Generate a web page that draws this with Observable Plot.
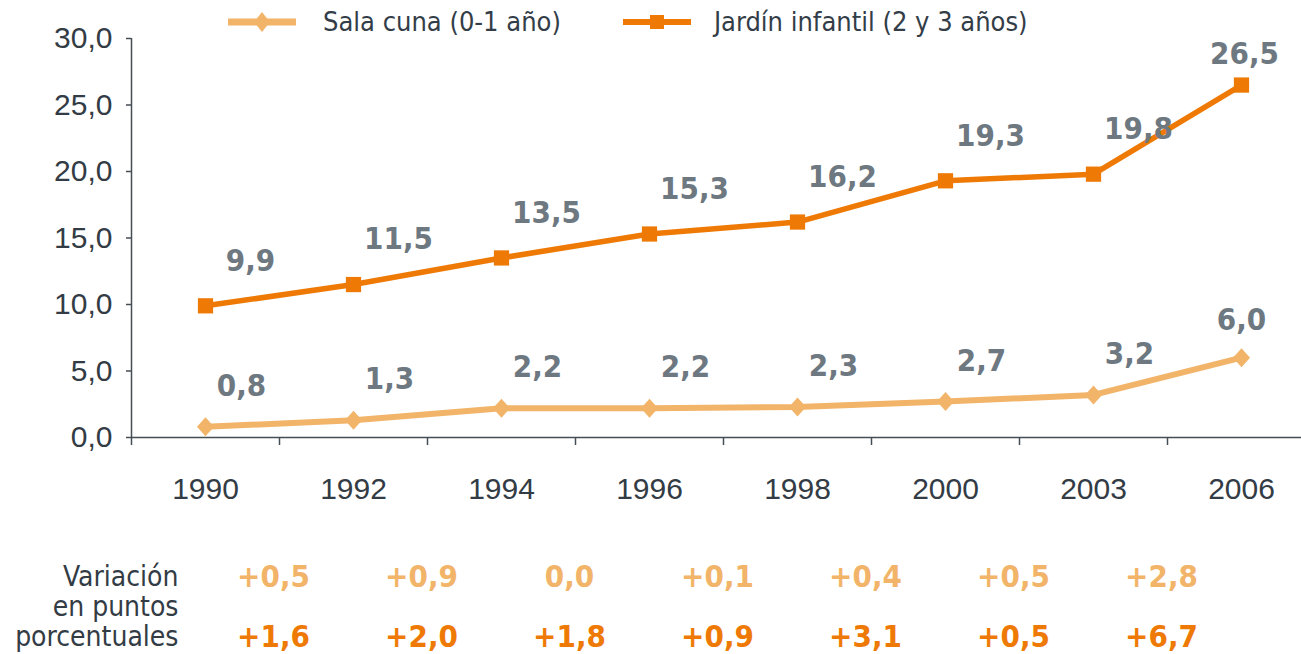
<!DOCTYPE html>
<html><head><meta charset="utf-8">
<script src="https://cdn.jsdelivr.net/npm/d3@7"></script>
<script src="https://cdn.jsdelivr.net/npm/@observablehq/plot@0.6"></script>
<style>
body{margin:0;background:#fff;overflow:hidden}
#wrap{position:relative;width:1301px;height:654px;overflow:hidden}
#legend{position:absolute;top:6px;left:228px;display:flex;align-items:center;font-family:"DejaVu Sans Condensed","DejaVu Sans",sans-serif;font-stretch:condensed;font-size:27px;color:#333d47}
.item{display:flex;align-items:center}
.item svg{display:block}
#chart svg{overflow:hidden}
</style></head><body><div id="wrap"><div id="chart"></div><div id="legend"></div></div>
<script>
const years = ["1990","1992","1994","1996","1998","2000","2003","2006"];
const salaCuna = [0.8,1.3,2.2,2.2,2.3,2.7,3.2,6.0];
const jardin = [9.9,11.5,13.5,15.3,16.2,19.3,19.8,26.5];
const varSala = [0.5,0.9,0.0,0.1,0.4,0.5,2.8];
const varJardin = [1.6,2.0,1.8,0.9,3.1,0.5,6.7];
const yTicks = [0,5,10,15,20,25,30];
const seriesNames = ["Sala cuna (0-1 año)","Jardín infantil (2 y 3 años)"];
const rowLabel = "Variación\nen puntos\nporcentuales";

const cLight = "#f2b469", cDark = "#ee7a05", cGray = "#6e7881", cText = "#333c45", cAxis = "#454d55";
const fmt = v => v.toFixed(1).replace(".", ",");
const fmtVar = v => (v > 0 ? "+" : "") + fmt(v);
const condFont = "'DejaVu Sans Condensed','DejaVu Sans',sans-serif";
const armFont = "'Liberation Sans',Arial,sans-serif";

const diamond = {draw(ctx, size){const r=Math.sqrt(size/Math.PI);const w=r*0.9;ctx.moveTo(0,-r);ctx.lineTo(w,0);ctx.lineTo(0,r);ctx.lineTo(-w,0);ctx.closePath();}};

const sala = salaCuna.map((v,i)=>({i, v}));
const jard = jardin.map((v,i)=>({i, v}));
const n = years.length;
const bounds = d3.range(n+1).map(i=>i-0.5);
const lblStyle = {fill:cGray, fontSize:31, fontWeight:"bold", fontFamily:condFont};

const chart = Plot.plot({
  width: 1301, height: 654,
  marginLeft: 131, marginRight: -14, marginTop: 38, marginBottom: 217,
  x: {type:"linear", domain:[-0.5, n-0.5], axis:null},
  y: {domain:[0,30], axis:null},
  style: {background:"#fff", overflow:"hidden"},
  marks: [
    Plot.ruleY([0], {stroke:cAxis, strokeWidth:1.5}),
    Plot.ruleX([-0.5], {y1:0, y2:30, stroke:cAxis, strokeWidth:1.5}),
    Plot.axisX(bounds, {tickSize:8, tickFormat:()=>"", label:null, stroke:cAxis, strokeWidth:1.5}),
    Plot.axisX(d3.range(n), {tickSize:0, tickPadding:40, tickFormat:i=>years[i], label:null, fontSize:30, fontFamily:armFont, fill:cText}),
    Plot.axisY(yTicks, {tickSize:5, tickPadding:14, tickFormat:fmt, label:null, fontSize:30, fontFamily:armFont, fill:cText, stroke:cAxis, strokeWidth:1.5}),
    Plot.line(sala, {x:"i", y:"v", stroke:cLight, strokeWidth:6}),
    Plot.dot(sala, {x:"i", y:"v", symbol:diamond, r:9.5, fill:cLight, stroke:null}),
    Plot.line(jard, {x:"i", y:"v", stroke:cDark, strokeWidth:5.5}),
    Plot.dot(jard, {x:"i", y:"v", symbol:"square", r:8.6, fill:cDark, stroke:null}),
    Plot.text(sala.filter(d=>d.i<n-1), {x:"i", y:"v", text:d=>fmt(d.v), dx:36, dy:-41, ...lblStyle}),
    Plot.text(sala.filter(d=>d.i===n-1), {x:"i", y:"v", text:d=>fmt(d.v), dx:0, dy:-38, ...lblStyle}),
    Plot.text(jard.filter(d=>d.i<n-1), {x:"i", y:"v", text:d=>fmt(d.v), dx:45, dy:-45, ...lblStyle}),
    Plot.text(jard.filter(d=>d.i===n-1), {x:"i", y:"v", text:d=>fmt(d.v), dx:3, dy:-31, ...lblStyle}),
    Plot.text(varSala, {x:(d,i)=>i+0.5, frameAnchor:"bottom", lineAnchor:"middle", dy:140, dx:-6, text:fmtVar, fill:cLight, fontSize:31, fontWeight:"bold", fontFamily:condFont}),
    Plot.text(varJardin, {x:(d,i)=>i+0.5, frameAnchor:"bottom", lineAnchor:"middle", dy:200, dx:-6, text:fmtVar, fill:cDark, fontSize:31, fontWeight:"bold", fontFamily:condFont}),
    Plot.text([rowLabel], {frameAnchor:"bottom-left", lineAnchor:"middle", dx:47, dy:169, text:d=>d, textAnchor:"end", lineHeight:1.08, fill:cText, fontSize:28, fontFamily:condFont})
  ]
});
document.getElementById("chart").appendChild(chart);

const legend = document.getElementById("legend");
function item(name, color, shape, lw, gap, ml){
  const el = document.createElement("div"); el.className="item"; el.style.marginLeft = ml+"px";
  const svg = d3.create("svg").attr("width",68).attr("height",30);
  svg.append("line").attr("x1",0).attr("x2",68).attr("y1",15).attr("y2",15).attr("stroke",color).attr("stroke-width",lw);
  if(shape==="diamond") svg.append("path").attr("d","M34,5L42,15L34,25L26,15Z").attr("fill",color);
  else svg.append("rect").attr("x",27).attr("y",8).attr("width",14).attr("height",14).attr("fill",color);
  el.appendChild(svg.node());
  const t = document.createElement("span"); t.textContent = name; t.style.marginLeft = gap+"px";
  el.appendChild(t); legend.appendChild(el);
}
item(seriesNames[0], cLight, "diamond", 7, 27, 0);
item(seriesNames[1], cDark, "square", 6, 23, 62);
</script></body></html>
